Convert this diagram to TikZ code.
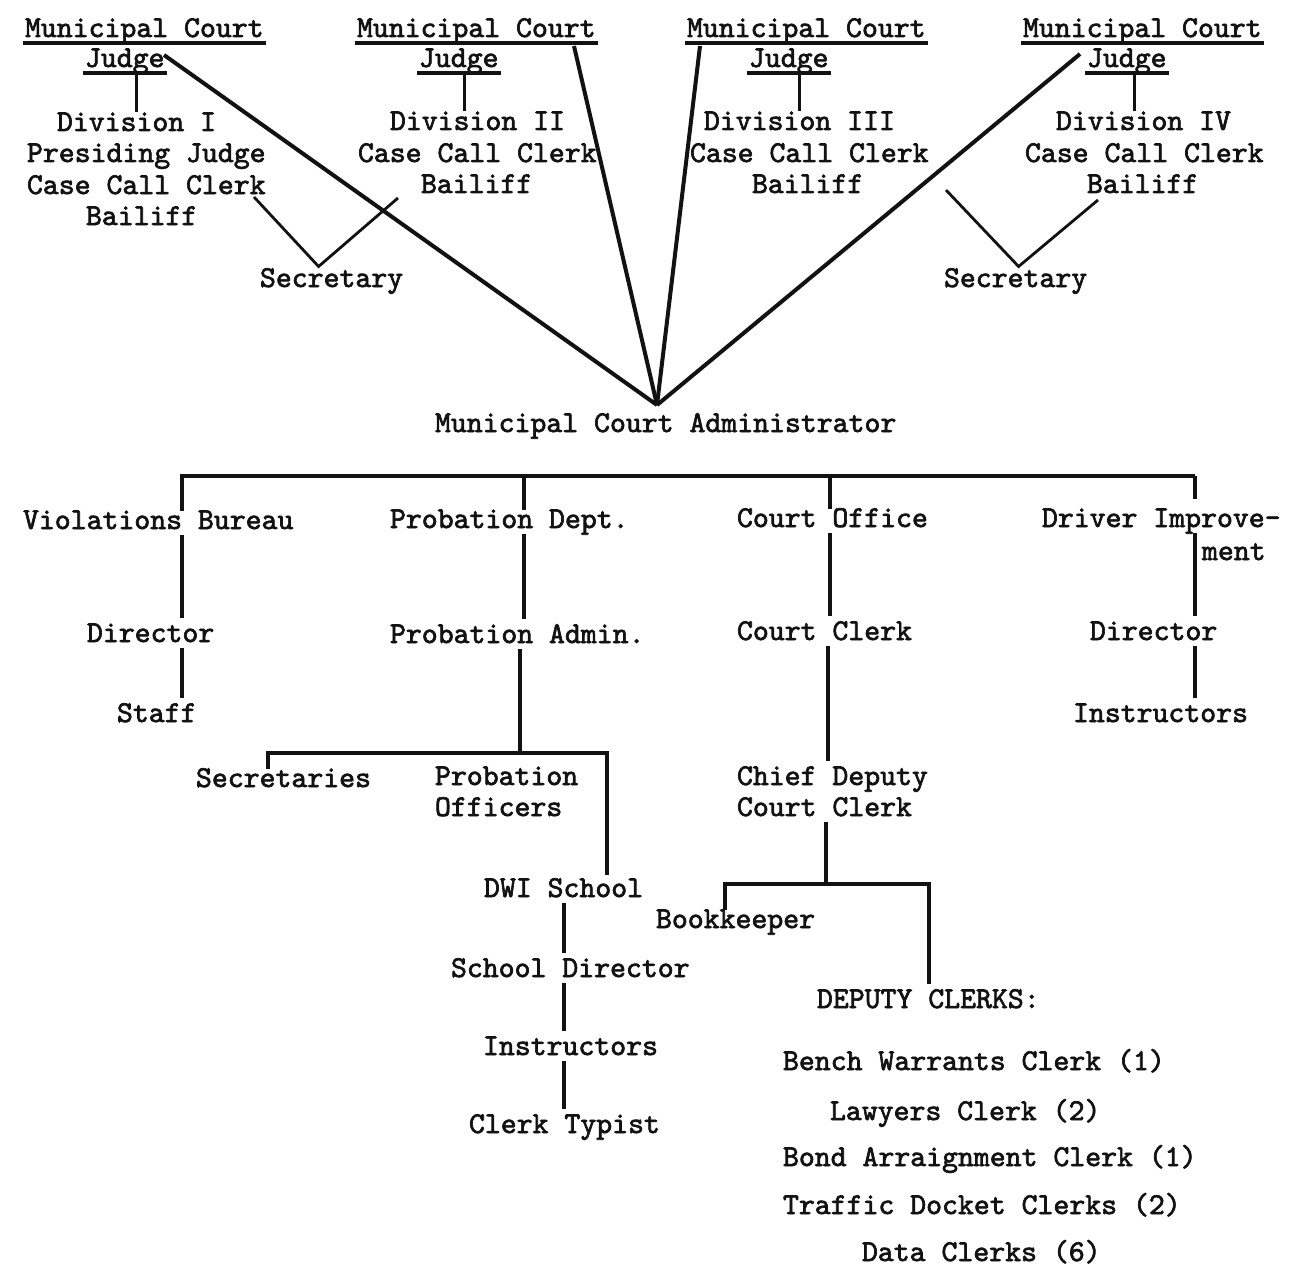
\documentclass[tikz,border=0pt]{standalone}
\usepackage{fontspec}
\definecolor{ink}{RGB}{18,18,18}
% typewriter face used for every label
\newfontfamily\typeface{lmmono10-regular.otf}[FakeBold=2.2]
\newcommand\typewriter{\typeface\fontsize{30.3}{31.5}\selectfont}
\begin{document}
\begin{tikzpicture}[x=1pt,y=-1pt,
  lbl/.style={anchor=base west, inner sep=0pt, outer sep=0pt,
              text height=18.5pt, text depth=6pt, font=\typewriter, text=ink},
  link/.style={draw=ink, line width=3.3pt},
  spoke/.style={draw=ink, line width=4pt},
  uline/.style={draw=ink, line width=3.3pt},
  totext/.style={shorten >=6pt}]

\path[use as bounding box, fill=white] (0,0) rectangle (1300,1268);

% ---------------- judges and divisions ----------------
\node[lbl] (mc1) at (25,37)  {Municipal Court};
\node[lbl] (j1)  at (85,67)  {Judge};
\node[lbl] (d1)  at (57,131) {Division I};
\node[lbl] (p1)  at (27,162) {Presiding Judge};
\node[lbl] (c1)  at (27,194) {Case Call Clerk};
\node[lbl] (b1)  at (86,225) {Bailiff};

\node[lbl] (mc2) at (357,37)  {Municipal Court};
\node[lbl] (j2)  at (419,67)  {Judge};
\node[lbl] (d2)  at (390,130) {Division II};
\node[lbl] (c2)  at (358,162) {Case Call Clerk};
\node[lbl] (b2)  at (421,193) {Bailiff};

\node[lbl] (mc3) at (687,37)  {Municipal Court};
\node[lbl] (j3)  at (749,67)  {Judge};
\node[lbl] (d3)  at (704,130) {Division III};
\node[lbl] (c3)  at (690,162) {Case Call Clerk};
\node[lbl] (b3)  at (752,193) {Bailiff};

\node[lbl] (mc4) at (1023,37)  {Municipal Court};
\node[lbl] (j4)  at (1087,67)  {Judge};
\node[lbl] (d4)  at (1056,130) {Division IV};
\node[lbl] (c4)  at (1025,162) {Case Call Clerk};
\node[lbl] (b4)  at (1087,193) {Bailiff};

% underlined titles
\foreach \n in {mc1,j1,mc2,j2,mc3,j3,mc4,j4}
  \draw[uline] ([xshift=-2pt]\n.south west) -- ([xshift=2pt]\n.south east);

% judge to division
\draw[link] ([xshift=12pt]j1.south) -- ([xshift=12pt]j1.south |- d1.north);
\draw[link] ([xshift=6pt]j2.south)  -- ([xshift=6pt]j2.south |- d2.north);
\draw[link] ([xshift=11pt]j3.south) -- ([xshift=11pt]j3.south |- d3.north);
\draw[link] ([xshift=8pt]j4.south)  -- ([xshift=8pt]j4.south |- d4.north);

% secretaries shared by two divisions
\node[lbl] (s1) at (260,287) {Secretary};
\node[lbl] (s2) at (944,287) {Secretary};
\coordinate (s1l) at (254,197);
\coordinate (s1r) at (398,198);
\coordinate (s2l) at (946,190);
\coordinate (s2r) at (1098,200);
\draw[link, line width=2.8pt] (s1l) -- ([xshift=-13pt,yshift=2pt]s1.north) -- (s1r);
\draw[link, line width=2.8pt] (s2l) -- ([xshift=3pt,yshift=2pt]s2.north) -- (s2r);

% ---------------- administrator ----------------
\node[lbl] (adm) at (435,432) {Municipal Court Administrator};
\coordinate (apex) at (657,405);
\coordinate (t1) at (164,55);
\coordinate (t2) at (574,46);
\coordinate (t3) at (700,46);
\coordinate (t4) at (1080,54);
\foreach \t in {t1,t2,t3,t4}
  \draw[spoke] (apex) -- (\t);

% ---------------- departments ----------------
\node[lbl] (vb)  at (23,529)   {Violations Bureau};
\node[lbl] (pd)  at (390,528)  {Probation Dept.};
\node[lbl] (co)  at (737,527)  {Court Office};
\node[lbl] (di1) at (1042,527) {Driver Improve-};
\node[lbl] (di2) at (1202,560) {ment};

\coordinate (bl) at (182,476);
\coordinate (bp) at (524,476);
\coordinate (bc) at (830,476);
\coordinate (br) at (1195,476);
\draw[link] (bl |- vb.north) -- (bl) -- (br);
\draw[link] (bp) -- (bp |- pd.north);
\draw[link] (bc) -- (bc |- co.north);
\draw[link, shorten >=10pt] (br) -- (br |- di1.north);

% violations bureau column
\node[lbl] (vbd) at (87,642)  {Director};
\node[lbl] (vbs) at (117,722) {Staff};
\draw[link, totext] (vb.south -| bl)  -- (vbd.north -| bl);
\draw[link, totext] (vbd.south -| bl) -- (vbs.north -| bl);

% probation column
\node[lbl] (pa) at (390,643) {Probation Admin.};
\draw[link, totext] (pd.south -| bp) -- (pa.north -| bp);
\coordinate (q)  at (520,753);
\coordinate (ql) at (268,753);
\coordinate (qr) at (607,753);
\draw[link] (pa.south -| q) -- (q);
\node[lbl] (sec) at (196,787) {Secretaries};
\node[lbl] (po1) at (435,785) {Probation};
\node[lbl] (po2) at (435,816) {Officers};
\node[lbl] (dwi) at (484,897) {DWI School};
\draw[link, shorten >=4pt] (ql |- sec.north) -- (ql) -- (qr) -- (qr |- dwi.north);

\node[lbl] (sd)  at (451,977)  {School Director};
\node[lbl] (ins) at (483,1055) {Instructors};
\node[lbl] (ct)  at (469,1133) {Clerk Typist};
\coordinate (xs) at (564,0);
\draw[link, totext] (dwi.south -| xs) -- (sd.north -| xs);
\draw[link, totext] (sd.south -| xs)  -- (ins.north -| xs);
\draw[link, totext] (ins.south -| xs) -- (ct.north -| xs);

% court office column
\node[lbl] (cc)  at (737,640) {Court Clerk};
\node[lbl] (cd1) at (737,785) {Chief Deputy};
\node[lbl] (cd2) at (737,816) {Court Clerk};
\coordinate (xc) at (828,0);
\draw[link, totext] (co.south -| bc) -- (cc.north -| bc);
\draw[link, totext] (cc.south -| xc) -- (cd1.north -| xc);
\coordinate (r)  at (826,884);
\coordinate (rl) at (725,884);
\coordinate (rr) at (929,884);
\draw[link] (cd2.south -| r) -- (r);
\node[lbl] (bk) at (656,928)  {Bookkeeper};
\node[lbl] (dc) at (817,1008) {DEPUTY CLERKS:};
\draw[link, totext] (rl |- bk.north) -- (rl) -- (rr) -- (rr |- dc.north);

\node[lbl] (l1) at (783,1070) {Bench Warrants Clerk (1)};
\node[lbl] (l2) at (830,1120) {Lawyers Clerk (2)};
\node[lbl] (l3) at (783,1166) {Bond Arraignment Clerk (1)};
\node[lbl] (l4) at (783,1214) {Traffic Docket Clerks (2)};
\node[lbl] (l5) at (862,1261) {Data Clerks (6)};

% driver improvement column
\node[lbl] (did) at (1090,640) {Director};
\node[lbl] (dii) at (1073,722) {Instructors};
\draw[link, totext] (di1.south -| br) -- (did.north -| br);
\draw[link, totext] (did.south -| br) -- (dii.north -| br);

\end{tikzpicture}
\end{document}
